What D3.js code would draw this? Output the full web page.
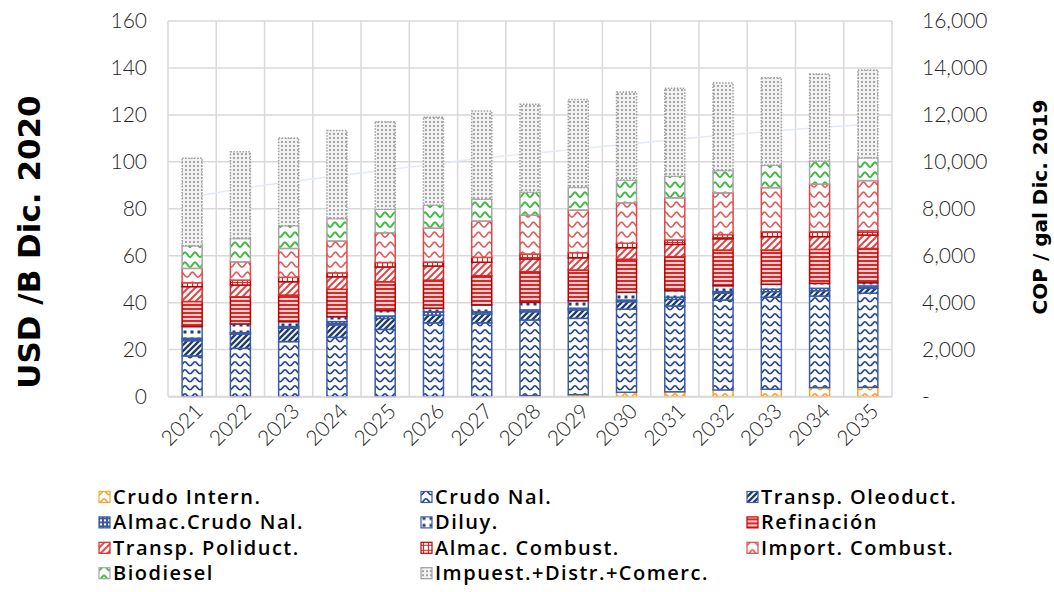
<!DOCTYPE html>
<html>
<head>
<meta charset="utf-8">
<script src="https://cdn.jsdelivr.net/npm/d3@7"></script>
<style>
  body { margin: 0; background: #fff; }
  svg { display: block; }
</style>
</head>
<body>
<div id="chart"></div>
<script>
'use strict';

const years = ['2021','2022','2023','2024','2025','2026','2027','2028','2029','2030','2031','2032','2033','2034','2035'];
const seriesNames = ['Crudo Intern.','Crudo Nal.','Transp. Oleoduct.','Almac.Crudo Nal.','Diluy.','Refinación',
                     'Transp. Poliduct.','Almac. Combust.','Import. Combust.','Biodiesel','Impuest.+Distr.+Comerc.'];

const crudoIntern    = [0, 0, 0, 0, 0, 0, 0, 0.3, 0.8, 1.8, 2.0, 2.8, 3.1, 3.8, 3.9];
const crudoNal       = [17.3, 20.5, 23.4, 25.2, 28.6, 31.4, 31.4, 32.3, 32.5, 35.4, 36.6, 38.3, 39.2, 39.0, 40.1];
const transpOleoduct = [6.5, 6.1, 5.7, 5.3, 4.7, 3.3, 3.8, 3.5, 3.6, 3.2, 2.8, 2.9, 2.4, 2.3, 2.1];
const almacCrudoNal  = [1.0, 0.6, 0.7, 1.4, 1.0, 1.4, 0.9, 0.8, 0.7, 0.7, 0.9, 0.7, 1.0, 1.0, 1.0];
const diluy          = [5.0, 3.7, 2.1, 2.1, 2.3, 1.5, 2.9, 3.2, 3.2, 3.3, 2.8, 2.5, 2.1, 2.1, 1.4];
const refinacion     = [10.7, 11.6, 11.3, 11.7, 12.3, 12.0, 12.5, 13.1, 13.1, 14.1, 14.5, 15.2, 14.6, 14.5, 14.6];
const transpPoliduct = [6.3, 5.0, 5.7, 5.3, 6.3, 6.0, 5.7, 5.4, 5.2, 4.9, 5.2, 4.8, 5.7, 5.4, 5.7];
const almacCombust   = [1.7, 2.1, 1.9, 1.7, 1.9, 1.7, 2.1, 2.1, 2.2, 1.9, 1.9, 1.8, 2.1, 2.1, 1.8];
const importCombust  = [6.1, 7.8, 12.3, 13.6, 12.7, 14.5, 15.5, 16.6, 18.2, 17.3, 18.0, 17.8, 18.8, 20.3, 21.4];
const biodiesel      = [9.6, 9.9, 9.7, 9.5, 10.0, 9.8, 9.3, 9.7, 9.6, 9.6, 9.2, 9.5, 9.6, 9.8, 9.7];
const impuestos      = [37.3, 37.0, 37.3, 37.5, 37.3, 37.4, 37.5, 37.5, 37.4, 37.5, 37.4, 37.3, 37.2, 37.1, 37.4];

// faint trend line visible behind the bars
const tendencia      = [85, 88.5, 91.4, 94, 96.5, 99, 101.5, 103.5, 105.5, 107.5, 109.5, 111.3, 113, 114.6, 116];

const leftTicks  = [0, 20, 40, 60, 80, 100, 120, 140, 160];
const rightTicks = [0, 2000, 4000, 6000, 8000, 10000, 12000, 14000, 16000];

const allValues = [crudoIntern, crudoNal, transpOleoduct, almacCrudoNal, diluy, refinacion,
                   transpPoliduct, almacCombust, importCombust, biodiesel, impuestos];

const table = years.map((yr, i) => {
    let row = {year: yr};
    seriesNames.forEach((name, k) => { row[name] = allValues[k][i]; });
    return row;
});

let width = 1054, height = 592;
let margin = {top: 21, right: 162, bottom: 195.5, left: 168};

let svg = d3.select('#chart').append('svg')
    .attr('width', width)
    .attr('height', height);

// ---- patterns
let defs = svg.append('defs');

function wavePattern(id, color, w, h, sw) {
    let p = defs.append('pattern').attr('id', id).attr('patternUnits', 'userSpaceOnUse')
        .attr('width', w).attr('height', h);
    p.append('rect').attr('width', w).attr('height', h).attr('fill', '#fff');
    p.append('path')
        .attr('d', 'M0,' + (h * 0.72) + ' C' + (w * 0.22) + ',' + (h * 0.72) + ' ' + (w * 0.3) + ',' + (h * 0.22) + ' ' + (w / 2) + ',' + (h * 0.22)
            + ' C' + (w * 0.7) + ',' + (h * 0.22) + ' ' + (w * 0.78) + ',' + (h * 0.72) + ' ' + w + ',' + (h * 0.72))
        .attr('fill', 'none').attr('stroke', color).attr('stroke-width', sw);
}

function diagPattern(id, color, size, sw) {
    let p = defs.append('pattern').attr('id', id).attr('patternUnits', 'userSpaceOnUse')
        .attr('width', size).attr('height', size);
    p.append('rect').attr('width', size).attr('height', size).attr('fill', '#fff');
    p.append('path')
        .attr('d', 'M0,' + size + ' L' + size + ',0 M' + (-size / 2) + ',' + (size / 2) + ' L' + (size / 2) + ',' + (-size / 2)
            + ' M' + (size / 2) + ',' + (size * 1.5) + ' L' + (size * 1.5) + ',' + (size / 2))
        .attr('stroke', color).attr('stroke-width', sw);
}

wavePattern('p-intern', '#f5a431', 10, 8, 1.6);
wavePattern('p-nal', '#24448a', 10, 8, 1.7);
diagPattern('p-oleo', '#1f3a7a', 6, 2.4);

let pa = defs.append('pattern').attr('id', 'p-almcrudo').attr('patternUnits', 'userSpaceOnUse')
    .attr('width', 4).attr('height', 4);
pa.append('rect').attr('width', 4).attr('height', 4).attr('fill', '#3b5ca5');
pa.append('rect').attr('x', 1).attr('y', 1).attr('width', 2).attr('height', 2).attr('fill', '#fff');

let pd = defs.append('pattern').attr('id', 'p-diluy').attr('patternUnits', 'userSpaceOnUse')
    .attr('width', 7).attr('height', 7);
pd.append('rect').attr('width', 7).attr('height', 7).attr('fill', '#fff');
pd.append('rect').attr('x', 1.5).attr('y', 1.5).attr('width', 3).attr('height', 3).attr('fill', '#1f3a7a');

let pr = defs.append('pattern').attr('id', 'p-ref').attr('patternUnits', 'userSpaceOnUse')
    .attr('width', 4).attr('height', 4);
pr.append('rect').attr('width', 4).attr('height', 4).attr('fill', '#f6d0d0');
pr.append('rect').attr('y', 0).attr('width', 4).attr('height', 2).attr('fill', '#d42a2a');

diagPattern('p-poli', '#e04848', 7, 2);

let pc = defs.append('pattern').attr('id', 'p-almcomb').attr('patternUnits', 'userSpaceOnUse')
    .attr('width', 5).attr('height', 5);
pc.append('rect').attr('width', 5).attr('height', 5).attr('fill', '#fff');
pc.append('path').attr('d', 'M0,2.5 H5 M2.5,0 V5').attr('stroke', '#d42a2a').attr('stroke-width', 1.2);

wavePattern('p-import', '#e25a5a', 11, 10, 1.8);
wavePattern('p-bio', '#3dbb3d', 10, 10, 2);

let pg = defs.append('pattern').attr('id', 'p-imp').attr('patternUnits', 'userSpaceOnUse')
    .attr('width', 4).attr('height', 4);
pg.append('rect').attr('width', 4).attr('height', 4).attr('fill', '#f2f2f2');
pg.append('circle').attr('cx', 2).attr('cy', 2).attr('r', 1).attr('fill', '#8c8c8c');

const styles = {
    'Crudo Intern.':           {fill: 'url(#p-intern)',   stroke: '#f5a431'},
    'Crudo Nal.':              {fill: 'url(#p-nal)',      stroke: '#3b5ca5'},
    'Transp. Oleoduct.':       {fill: 'url(#p-oleo)',     stroke: '#3b5ca5'},
    'Almac.Crudo Nal.':        {fill: 'url(#p-almcrudo)', stroke: '#3b5ca5'},
    'Diluy.':                  {fill: 'url(#p-diluy)',    stroke: '#3b5ca5'},
    'Refinación':              {fill: 'url(#p-ref)',      stroke: '#c00000'},
    'Transp. Poliduct.':       {fill: 'url(#p-poli)',     stroke: '#d42a2a'},
    'Almac. Combust.':         {fill: 'url(#p-almcomb)',  stroke: '#c00000'},
    'Import. Combust.':        {fill: 'url(#p-import)',   stroke: '#e04848'},
    'Biodiesel':               {fill: 'url(#p-bio)',      stroke: '#a6a6a6'},
    'Impuest.+Distr.+Comerc.': {fill: 'url(#p-imp)',      stroke: '#a0a0a0', dash: '1.5,1.5'}
};

// ---- scales
let x = d3.scaleBand()
    .domain(years)
    .range([margin.left, width - margin.right])
    .paddingInner(0.585)
    .paddingOuter(0.2925);

let y = d3.scaleLinear().domain([0, 160]).range([height - margin.bottom, margin.top]);
let y2 = d3.scaleLinear().domain([0, 16000]).range([height - margin.bottom, margin.top]);

// ---- gridlines
let grid = svg.append('g').attr('stroke', '#d9d9d9').attr('stroke-width', 1.5);
grid.selectAll('line.h').data(leftTicks).enter().append('line')
    .attr('x1', margin.left).attr('x2', width - margin.right)
    .attr('y1', d => y(d)).attr('y2', d => y(d));
let step = x.step();
grid.selectAll('line.v').data(d3.range(years.length + 1)).enter().append('line')
    .attr('x1', d => margin.left + d * step).attr('x2', d => margin.left + d * step)
    .attr('y1', y(160)).attr('y2', y(0));

// faint trend line
svg.append('path')
    .datum(tendencia)
    .attr('fill', 'none')
    .attr('stroke', '#e3eaf6')
    .attr('stroke-width', 1.5)
    .attr('d', d3.line().curve(d3.curveMonotoneX).x((d, i) => x(years[i]) + x.bandwidth() / 2).y(d => y(d)));

// ---- stacked bars
let stacked = d3.stack().keys(seriesNames)(table);

let layers = svg.append('g').selectAll('g')
    .data(stacked)
    .enter().append('g')
    .attr('fill', d => styles[d.key].fill)
    .attr('stroke', d => styles[d.key].stroke)
    .attr('stroke-dasharray', d => styles[d.key].dash || null)
    .attr('stroke-width', 1.5);

layers.selectAll('rect')
    .data(d => d.filter(s => s[1] - s[0] > 0))
    .enter().append('rect')
    .attr('x', d => x(d.data.year))
    .attr('width', x.bandwidth())
    .attr('y', d => y(d[1]))
    .attr('height', d => y(d[0]) - y(d[1]));

// ---- axes
let tickFont = 'Lato, "Open Sans", sans-serif';

let yAxisL = svg.append('g')
    .attr('transform', 'translate(' + margin.left + ',0)')
    .call(d3.axisLeft(y).tickValues(leftTicks).tickSize(0).tickPadding(21));
yAxisL.select('.domain').remove();
yAxisL.selectAll('text').attr('font-family', tickFont).attr('font-weight', 300)
    .attr('font-size', 21).attr('fill', '#262626');

let yAxisR = svg.append('g')
    .attr('transform', 'translate(' + (width - margin.right) + ',0)')
    .call(d3.axisRight(y2).tickValues(rightTicks).tickSize(0).tickPadding(30)
        .tickFormat(d => d === 0 ? '-' : d3.format(',')(d)));
yAxisR.select('.domain').remove();
yAxisR.selectAll('text').attr('font-family', tickFont).attr('font-weight', 300)
    .attr('font-size', 21).attr('fill', '#262626');

let xAxis = svg.append('g')
    .attr('transform', 'translate(0,' + y(0) + ')')
    .call(d3.axisBottom(x).tickSize(0));
xAxis.select('.domain').attr('stroke', '#d9d9d9').attr('stroke-width', 1.5);
xAxis.selectAll('text')
    .attr('font-family', tickFont).attr('font-weight', 300)
    .attr('font-size', 21).attr('fill', '#262626')
    .attr('text-anchor', 'end')
    .attr('dy', 0)
    .attr('transform', 'translate(10,14) rotate(-45)');

// ---- axis titles
svg.append('text')
    .attr('transform', 'translate(40,242) rotate(-90)')
    .attr('text-anchor', 'middle')
    .attr('font-family', '"DejaVu Sans", sans-serif')
    .attr('font-weight', 700)
    .attr('font-size', 31)
    .attr('fill', '#000')
    .text('USD /B Dic. 2020');

svg.append('text')
    .attr('transform', 'translate(1047,207) rotate(-90)')
    .attr('text-anchor', 'middle')
    .attr('font-family', '"DejaVu Sans", sans-serif')
    .attr('font-weight', 700)
    .attr('font-size', 20)
    .attr('fill', '#000')
    .text('COP / gal  Dic. 2019');

// ---- legend
let legendCols = [99, 421, 747];
let legend = svg.append('g');
seriesNames.forEach((name, k) => {
    let col = k % 3, row = Math.floor(k / 3);
    let lx = legendCols[col], ly = 497 + row * 25.4;
    let item = legend.append('g').attr('transform', 'translate(' + lx + ',' + ly + ')');
    item.append('rect')
        .attr('x', 0).attr('y', -5.5).attr('width', 11).attr('height', 11)
        .attr('fill', styles[name].fill)
        .attr('stroke', styles[name].stroke)
        .attr('stroke-width', 1.2);
    item.append('text')
        .attr('x', 14).attr('y', 7)
        .attr('font-family', '"Open Sans", sans-serif')
        .attr('font-weight', 600)
        .attr('font-size', 20)
        .attr('letter-spacing', 1.5)
        .attr('fill', '#000')
        .text(name);
});
</script>
</body>
</html>
